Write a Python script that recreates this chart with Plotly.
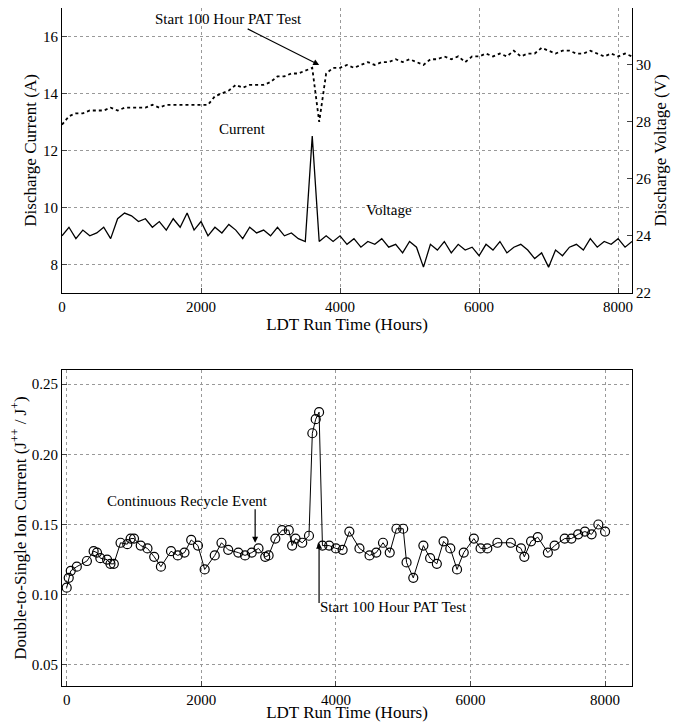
import plotly.graph_objects as go

# top panel, sampled every 100 hours
current = [12.9, 13.2, 13.3, 13.3, 13.4, 13.4, 13.4, 13.5, 13.4, 13.5, 13.5, 13.5, 13.5, 13.6, 13.5, 13.6,
           13.6, 13.6, 13.6, 13.6, 13.6, 13.6, 13.9, 14.0, 14.1, 14.3, 14.2, 14.3, 14.3, 14.3, 14.4, 14.6,
           14.6, 14.7, 14.7, 14.8, 14.9, 13.0, 14.7, 14.9, 14.9, 15.0, 14.9, 15.0, 15.1, 15.0, 15.1, 15.1,
           15.2, 15.1, 15.2, 15.1, 15.0, 15.2, 15.2, 15.3, 15.2, 15.3, 15.1, 15.3, 15.3, 15.4, 15.3, 15.4,
           15.3, 15.5, 15.3, 15.4, 15.4, 15.6, 15.5, 15.4, 15.5, 15.5, 15.4, 15.4, 15.5, 15.4, 15.3, 15.4,
           15.3, 15.4, 15.3]
voltage = [24.0, 24.3, 23.9, 24.2, 24.0, 24.1, 24.3, 23.9, 24.6, 24.8, 24.7, 24.5, 24.6, 24.3, 24.5, 24.2,
           24.6, 24.3, 24.8, 24.2, 24.5, 24.0, 24.3, 24.1, 24.4, 24.2, 23.9, 24.3, 24.1, 24.2, 24.0, 24.3,
           24.0, 24.1, 23.9, 23.8, 27.5, 23.8, 24.0, 23.8, 24.0, 23.7, 23.9, 23.6, 23.8, 23.7, 23.9, 23.6,
           23.7, 23.4, 23.8, 23.6, 22.9, 23.7, 23.5, 23.8, 23.4, 23.7, 23.5, 23.6, 23.3, 23.7, 23.5, 23.8,
           23.4, 23.6, 23.7, 23.5, 23.2, 23.4, 22.9, 23.5, 23.3, 23.6, 23.7, 23.5, 23.9, 23.6, 23.8, 23.7,
           23.9, 23.6, 23.8]
run_hours = [i * 100 for i in range(len(current))]

# bottom panel
ratio_hours = [0, 30, 60, 150, 300, 400, 450, 500, 600, 650, 700, 800, 900, 950, 1000, 1100, 1200, 1300,
               1400, 1550, 1650, 1750, 1850, 1950, 2050, 2200, 2300, 2400, 2550, 2650, 2750, 2850, 2950,
               3000, 3100, 3200, 3300, 3350, 3400, 3500, 3600, 3650, 3700, 3750, 3800, 3900, 4000, 4100,
               4200, 4350, 4500, 4600, 4700, 4800, 4900, 5000, 5050, 5150, 5300, 5400, 5500, 5600, 5700,
               5800, 5900, 6050, 6150, 6250, 6400, 6600, 6750, 6800, 6900, 7000, 7150, 7250, 7400, 7500,
               7600, 7700, 7800, 7900, 8000]
ratio = [0.105, 0.112, 0.117, 0.120, 0.124, 0.131, 0.130, 0.126, 0.125, 0.122, 0.122, 0.137, 0.136, 0.140,
         0.140, 0.135, 0.133, 0.127, 0.120, 0.131, 0.128, 0.130, 0.139, 0.135, 0.118, 0.128, 0.137, 0.132,
         0.130, 0.128, 0.130, 0.133, 0.127, 0.128, 0.140, 0.146, 0.146, 0.135, 0.140, 0.137, 0.142, 0.215,
         0.225, 0.230, 0.135, 0.135, 0.133, 0.132, 0.145, 0.133, 0.128, 0.130, 0.137, 0.130, 0.147, 0.147,
         0.123, 0.112, 0.135, 0.126, 0.122, 0.138, 0.133, 0.118, 0.130, 0.140, 0.133, 0.133, 0.137, 0.137,
         0.133, 0.127, 0.138, 0.141, 0.130, 0.135, 0.140, 0.140, 0.143, 0.145, 0.143, 0.150, 0.145]

FONT = "Liberation Serif"

fig = go.Figure()
fig.add_trace(go.Scatter(x=run_hours, y=current, mode="lines", line=dict(color="black", width=1.8, dash="dot"),
                         xaxis="x", yaxis="y"))
fig.add_trace(go.Scatter(x=run_hours, y=voltage, mode="lines", line=dict(color="black", width=1.3),
                         xaxis="x", yaxis="y2"))
fig.add_trace(go.Scatter(x=ratio_hours, y=ratio, mode="lines+markers", line=dict(color="black", width=1),
                         marker=dict(symbol="circle-open", size=9, color="black", line=dict(width=1.2)),
                         xaxis="x2", yaxis="y3"))

ax = dict(showline=True, linecolor="black", mirror=True, ticks="inside", gridcolor="#999",
          griddash="dot", zeroline=False, tickfont=dict(size=15), title_font=dict(size=17),
          automargin=False)

fig.update_layout(
    width=677, height=714, showlegend=False, plot_bgcolor="white", paper_bgcolor="white",
    margin=dict(l=54, r=53, t=0, b=36),
    font=dict(family=FONT, color="black"),
    xaxis=dict(ax, domain=[0, 1], range=[0, 8200], dtick=2000, anchor="y",
               title=dict(text="LDT Run Time (Hours)", standoff=2)),
    yaxis=dict(ax, domain=[0.58, 1], range=[7, 17], dtick=2, title=dict(text="Discharge Current (A)", standoff=2)),
    yaxis2=dict(ax, overlaying="y", side="right", range=[22, 32], dtick=2, showgrid=False, anchor="x",
                title=dict(text="Discharge Voltage (V)", standoff=2)),
    xaxis2=dict(ax, domain=[0, 1], range=[-70, 8400], dtick=2000, anchor="y3",
                title=dict(text="LDT Run Time (Hours)", standoff=2)),
    yaxis3=dict(ax, domain=[0, 0.466], range=[0.035, 0.26], dtick=0.05, tickformat=".2f", anchor="x2",
                title=dict(text="Double-to-Single Ion Current (J<sup>++</sup> / J<sup>+</sup>)", standoff=2)),
)

ann = dict(font=dict(size=15, family=FONT), arrowcolor="black", arrowwidth=1.2, arrowhead=2)
fig.add_annotation(ann, x=3700, y=15.0, xref="x", yref="y", text="Start 100 Hour PAT Test",
                   ax=2400, ay=16.6, axref="x", ayref="y", showarrow=True, standoff=0)
fig.add_annotation(ann, x=2600, y=12.75, xref="x", yref="y", text="Current", showarrow=False)
fig.add_annotation(ann, x=4700, y=24.9, xref="x", yref="y2", text="Voltage", showarrow=False)
fig.add_annotation(ann, x=2800, y=0.137, xref="x2", yref="y3", text="", ax=2800, ay=0.162,
                   axref="x2", ayref="y3", showarrow=True)
fig.add_annotation(ann, x=1800, y=0.167, xref="x2", yref="y3", text="Continuous Recycle Event", showarrow=False)
fig.add_annotation(ann, x=3750, y=0.137, xref="x2", yref="y3", text="", ax=3750, ay=0.093,
                   axref="x2", ayref="y3", showarrow=True)
fig.add_annotation(ann, x=4850, y=0.091, xref="x2", yref="y3", text="Start 100 Hour PAT Test", showarrow=False)

fig.write_html("out.html")
